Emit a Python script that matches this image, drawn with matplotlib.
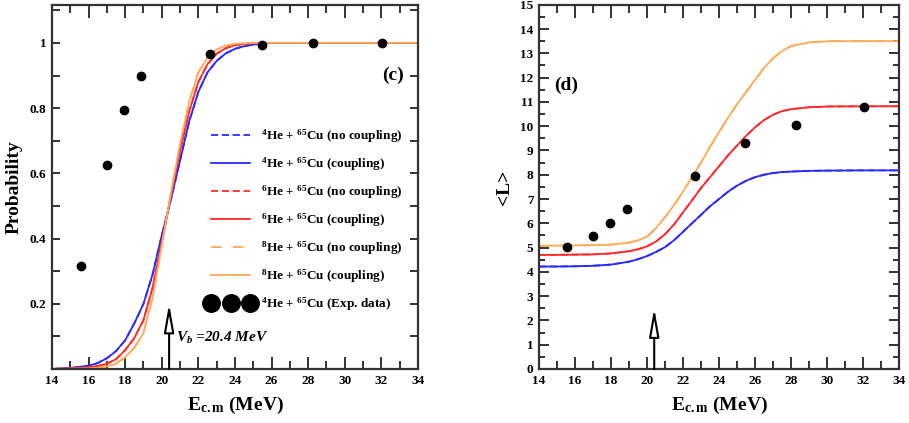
import matplotlib
matplotlib.use("Agg")
import matplotlib.pyplot as plt
from matplotlib.ticker import MultipleLocator, FixedLocator, FixedFormatter

plt.rcParams['font.family'] = ['Liberation Serif', 'DejaVu Serif']
plt.rcParams['font.weight'] = 'bold'
plt.rcParams['mathtext.fontset'] = 'custom'
plt.rcParams['mathtext.rm'] = 'Liberation Serif:bold'
plt.rcParams['mathtext.it'] = 'Liberation Serif:italic:bold'
plt.rcParams['mathtext.bf'] = 'Liberation Serif:bold'

# ---------------- data: panel (c) probability ----------------
e_prob = [14, 15, 16, 16.5, 17, 17.5, 18, 18.5, 19, 19.5, 20, 20.5, 21, 21.5,
          22, 22.5, 23, 23.5, 24, 24.5, 25, 26, 28, 30, 34]
p_he4 = [0.0, 0.003, 0.01, 0.018, 0.033, 0.055, 0.088, 0.14, 0.2, 0.29, 0.41, 0.52,
         0.64, 0.76, 0.85, 0.91, 0.945, 0.968, 0.982, 0.99, 0.995, 1.0, 1.0, 1.0, 1.0]
p_he6 = [0.0, 0.002, 0.005, 0.009, 0.016, 0.03, 0.058, 0.095, 0.15, 0.25, 0.39, 0.53,
         0.67, 0.79, 0.88, 0.935, 0.967, 0.984, 0.993, 0.997, 0.999, 1.0, 1.0, 1.0, 1.0]
p_he8 = [0.0, 0.001, 0.002, 0.004, 0.008, 0.016, 0.036, 0.065, 0.11, 0.22, 0.38, 0.54,
         0.69, 0.82, 0.91, 0.955, 0.98, 0.992, 0.997, 0.999, 1.0, 1.0, 1.0, 1.0, 1.0]

exp_e = [15.57, 17.0, 17.93, 18.87, 22.64, 25.45, 28.25, 32.03]
exp_p = [0.315, 0.625, 0.795, 0.90, 0.965, 0.995, 1.0, 1.0]

# ---------------- data: panel (d) mean angular momentum ----------------
e_L = [14, 15, 16, 17, 18, 19, 19.5, 20, 20.5, 21, 21.5, 22, 22.5, 23, 23.5, 24,
       24.5, 25, 25.5, 26, 26.5, 27, 27.5, 28, 29, 30, 32, 34]
L_he4 = [4.22, 4.22, 4.23, 4.25, 4.3, 4.42, 4.52, 4.65, 4.82, 5.02, 5.3, 5.65, 6.0,
         6.35, 6.7, 7.0, 7.3, 7.55, 7.75, 7.9, 8.0, 8.07, 8.11, 8.13, 8.16, 8.17, 8.18, 8.18]
L_he6 = [4.7, 4.7, 4.71, 4.72, 4.76, 4.85, 4.93, 5.05, 5.25, 5.55, 5.95, 6.45, 6.95,
         7.45, 7.9, 8.35, 8.8, 9.2, 9.6, 9.95, 10.25, 10.47, 10.62, 10.7, 10.78, 10.81,
         10.82, 10.82]
L_he8 = [5.07, 5.08, 5.09, 5.1, 5.12, 5.2, 5.3, 5.45, 5.8, 6.25, 6.75, 7.3, 7.9, 8.5,
         9.15, 9.75, 10.35, 10.9, 11.4, 11.9, 12.4, 12.8, 13.1, 13.3, 13.45, 13.5, 13.5, 13.5]

exp_L = [5.01, 5.49, 6.0, 6.6, 7.96, 9.30, 10.05, 10.79]

v_barrier = 20.4

labels = [r"$^{4}$He + $^{65}$Cu (no coupling)",
          r"$^{4}$He + $^{65}$Cu (coupling)",
          r"$^{6}$He + $^{65}$Cu (no coupling)",
          r"$^{6}$He + $^{65}$Cu (coupling)",
          r"$^{8}$He + $^{65}$Cu (no coupling)",
          r"$^{8}$He + $^{65}$Cu (coupling)",
          r"$^{4}$He + $^{65}$Cu (Exp. data)"]

BLUE = '#2a2aff'
RED = '#ff2a2a'
ORANGE = '#ffaa55'
SPINE = '#333333'

fig = plt.figure(figsize=(9.09, 4.23), dpi=100)
axc = fig.add_axes([0.0572, 0.1277, 0.4026, 0.861])
axd = fig.add_axes([0.593, 0.1277, 0.396, 0.861])


def style(ax):
    for s in ax.spines.values():
        s.set_color(SPINE)
        s.set_linewidth(1.6)
    ax.tick_params(which='both', direction='in', top=True, right=True,
                   color=SPINE, width=1.4, labelsize=9.5)
    ax.tick_params(axis='x', which='major', length=9, pad=4)
    ax.tick_params(axis='x', which='minor', length=5.5)
    ax.xaxis.set_major_locator(MultipleLocator(2))
    ax.xaxis.set_minor_locator(MultipleLocator(1))
    ax.set_xlim(14, 34)
    ax.set_xlabel(r"E$_{\rm c.m}$ (MeV)", fontsize=14, fontweight='bold', labelpad=6)


# ---------- panel (c) ----------
ax = axc
l1, = ax.plot(e_prob, p_he4, color=BLUE, lw=1.3, ls=(0, (4, 2)))
l3, = ax.plot(e_prob, p_he6, color=RED, lw=1.3, ls=(0, (4, 2)))
l5, = ax.plot(e_prob, p_he8, color=ORANGE, lw=1.3, ls=(0, (6, 6)))
l2, = ax.plot(e_prob, p_he4, color=BLUE, lw=1.3)
l4, = ax.plot(e_prob, p_he6, color=RED, lw=1.3)
l6, = ax.plot(e_prob, p_he8, color=ORANGE, lw=1.3)
l7, = ax.plot(exp_e, exp_p, 'o', color='black', ms=6, zorder=5)
ax.set_ylim(0, 1.117)
style(ax)
ax.yaxis.set_major_locator(FixedLocator([0.1 * i for i in range(1, 12)]))
ax.yaxis.set_major_formatter(FixedFormatter(['', '0.2', '', '0.4', '', '0.6', '', '0.8', '', '1', '']))
ax.tick_params(axis='y', which='major', length=6, pad=4)
ax.set_ylabel("Probability", fontsize=14, fontweight='bold', labelpad=5)
ax.annotate('', xy=(v_barrier, 0.2), xytext=(v_barrier, 0.0),
            arrowprops=dict(arrowstyle='-|>,head_length=1.7,head_width=0.3',
                            fc='white', ec='black', lw=1.5, shrinkA=0, shrinkB=0))
ax.text(20.75, 0.095, r"$V_b$ =20.4 MeV", fontsize=11, fontstyle='italic',
        fontweight='bold', va='center', ha='left')
ax.text(32.65, 0.9, "(c)", fontsize=14, fontweight='bold', ha='center', va='center')
leg = ax.legend([l1, l2, l3, l4, l5, l6, l7], labels, loc='upper left',
                bbox_to_anchor=(0.425, 0.662), bbox_transform=ax.transAxes,
                frameon=False, fontsize=9.5, handlelength=3.5, handletextpad=0.55,
                labelspacing=0.78, borderpad=0, borderaxespad=0, numpoints=3,
                markerscale=2.1)
for t in leg.get_texts():
    t.set_fontweight('bold')

# ---------- panel (d) ----------
ax = axd
ax.plot(e_L, L_he4, color=BLUE, lw=1.3, ls=(0, (4, 2)))
ax.plot(e_L, L_he6, color=RED, lw=1.3, ls=(0, (4, 2)))
ax.plot(e_L, L_he8, color=ORANGE, lw=1.3, ls=(0, (6, 6)))
ax.plot(e_L, L_he4, color=BLUE, lw=1.3)
ax.plot(e_L, L_he6, color=RED, lw=1.3)
ax.plot(e_L, L_he8, color=ORANGE, lw=1.3)
ax.plot(exp_e, exp_L, 'o', color='black', ms=6, zorder=5)
ax.set_ylim(0, 15)
style(ax)
ax.yaxis.set_major_locator(MultipleLocator(1))
ax.yaxis.set_minor_locator(MultipleLocator(0.5))
ax.tick_params(axis='y', which='major', length=7, pad=4)
ax.tick_params(axis='y', which='minor', length=4.5)
ax.set_ylabel("<L>", fontsize=14, fontweight='bold', labelpad=5)
ax.annotate('', xy=(v_barrier, 2.5), xytext=(v_barrier, 0.0),
            arrowprops=dict(arrowstyle='-|>,head_length=1.7,head_width=0.3',
                            fc='white', ec='black', lw=1.5, shrinkA=0, shrinkB=0))
ax.text(15.5, 11.7, "(d)", fontsize=14, fontweight='bold', ha='center', va='center')

fig.savefig("out.png", dpi=100)
